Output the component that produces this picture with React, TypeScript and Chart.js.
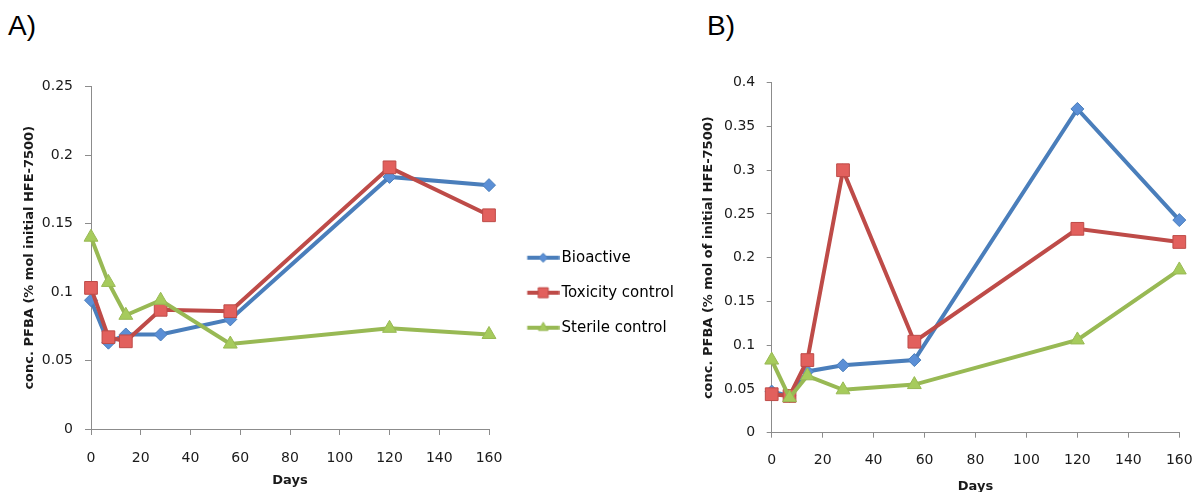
import React, { useEffect, useRef } from 'react';
import { Chart, registerables } from 'chart.js';

Chart.register(...registerables);

// ---------- data ----------
const days = [0, 7, 14, 28, 56, 120, 160];
const seriesLabels = ['Bioactive', 'Toxicity control', 'Sterile control'];

const bioactiveA = [0.094, 0.063, 0.069, 0.069, 0.080, 0.184, 0.178];
const toxicityA = [0.103, 0.067, 0.064, 0.087, 0.086, 0.191, 0.156];
const sterileA = [0.140, 0.107, 0.083, 0.094, 0.062, 0.0735, 0.069];

const bioactiveB = [0.047, 0.042, 0.070, 0.077, 0.083, 0.370, 0.243];
const toxicityB = [0.044, 0.042, 0.083, 0.300, 0.104, 0.233, 0.218];
const sterileB = [0.083, 0.040, 0.065, 0.049, 0.055, 0.106, 0.186];

const xTickValues = [0, 20, 40, 60, 80, 100, 120, 140, 160];
const yTickValuesA = [0, 0.05, 0.1, 0.15, 0.2, 0.25];
const yTickValuesB = [0, 0.05, 0.1, 0.15, 0.2, 0.25, 0.3, 0.35, 0.4];

const xTitle = 'Days';
const yTitleA = 'conc. PFBA (% mol initial HFE-7500)';
const yTitleB = 'conc. PFBA (% mol of initial HFE-7500)';
const panelLabels = ['A)', 'B)'];

// ---------- styles ----------
const lineColors = ['#4a7ebb', '#be4b48', '#98b954'];
const fillColors = ['#5b8fd6', '#e2605d', '#a6cb5c'];
const pointStyles = ['rectRot', 'rect', 'triangle'];
const pointRadii = [6.5, 9, 8];
const FONT = '"DejaVu Sans", Verdana, sans-serif';
const TEXT = '#1a1a1a';
const AXIS = '#8c8c8c';

const LEGEND_FONT_SIZE = 15;
const LEGEND_PAD = 20;
const LEGEND_BOX = 45;

function makeIcon(i: number): HTMLCanvasElement {
  const W = 56;
  const H = 16;
  const c = document.createElement('canvas');
  c.width = W;
  c.height = H;
  const ctx = c.getContext('2d')!;
  const cy = H / 2;
  const x0 = 23.75;
  const x1 = 55.75;
  ctx.strokeStyle = lineColors[i];
  ctx.lineWidth = 4;
  ctx.beginPath();
  ctx.moveTo(x0, cy);
  ctx.lineTo(x1, cy);
  ctx.stroke();
  const cx = (x0 + x1) / 2;
  ctx.fillStyle = fillColors[i];
  ctx.strokeStyle = lineColors[i];
  ctx.lineWidth = 1;
  ctx.beginPath();
  if (i === 0) {
    const r = 4.5;
    ctx.moveTo(cx - r, cy);
    ctx.lineTo(cx, cy - r);
    ctx.lineTo(cx + r, cy);
    ctx.lineTo(cx, cy + r);
    ctx.closePath();
  } else if (i === 1) {
    ctx.rect(cx - 5, cy - 5, 10, 10);
  } else {
    const r = 5.5;
    ctx.moveTo(cx, cy - r);
    ctx.lineTo(cx + r * 0.866, cy + r / 2);
    ctx.lineTo(cx - r * 0.866, cy + r / 2);
    ctx.closePath();
  }
  ctx.fill();
  ctx.stroke();
  return c;
}

function legendWidth(): number {
  const c = document.createElement('canvas');
  const ctx = c.getContext('2d')!;
  ctx.font = `${LEGEND_FONT_SIZE}px ${FONT}`;
  const maxText = Math.max(...seriesLabels.map((s) => ctx.measureText(s).width));
  return LEGEND_PAD + LEGEND_BOX + LEGEND_FONT_SIZE / 2 + maxText + 10;
}

function buildDatasets(values: number[][]) {
  return values.map((vals, i) => ({
    label: seriesLabels[i],
    data: days.map((d, k) => ({ x: d, y: vals[k] })),
    borderColor: lineColors[i],
    backgroundColor: fillColors[i],
    pointBackgroundColor: fillColors[i],
    pointBorderColor: lineColors[i],
    pointBorderWidth: 1,
    pointStyle: pointStyles[i],
    pointRadius: pointRadii[i],
    pointHoverRadius: pointRadii[i],
    borderWidth: 4,
    tension: 0,
    clip: false as any,
    order: 3 - i,
  }));
}

interface PanelOpts {
  yMax: number;
  yTicks: number[];
  yTitle: string;
  yWidth: number;
  yTitlePad: number;
  yTickPad: number;
  tickLen: number;
  xHeight: number;
  xTickPad: number;
  xTitlePadBottom: number;
  padding: { top: number; left: number; right: number; bottom: number };
  legend: boolean;
}

function buildConfig(values: number[][], o: PanelOpts): any {
  const icons = seriesLabels.map((_, i) => makeIcon(i));
  return {
    type: 'line',
    data: { datasets: buildDatasets(values) },
    options: {
      responsive: false,
      animation: false,
      devicePixelRatio: 1,
      layout: { padding: o.padding },
      events: [],
      plugins: {
        tooltip: { enabled: false },
        title: { display: false },
        legend: {
          display: o.legend,
          position: 'right',
          maxWidth: 400,
          labels: {
            usePointStyle: true,
            pointStyleWidth: LEGEND_BOX,
            padding: LEGEND_PAD,
            color: TEXT,
            font: { family: FONT, size: LEGEND_FONT_SIZE },
            generateLabels: (chart: any) =>
              chart.data.datasets.map((ds: any, i: number) => ({
                text: ds.label,
                pointStyle: icons[i],
                fillStyle: fillColors[i],
                strokeStyle: lineColors[i],
                lineWidth: 0,
                hidden: false,
                datasetIndex: i,
              })),
          },
        },
      },
      scales: {
        x: {
          type: 'linear',
          min: 0,
          max: 160,
          afterBuildTicks: (s: any) => {
            s.ticks = xTickValues.map((v) => ({ value: v }));
          },
          afterFit: (s: any) => {
            s.height = o.xHeight;
            s.paddingRight = 0;
            s.paddingLeft = 0;
          },
          ticks: {
            color: TEXT,
            font: { family: FONT, size: 14 },
            padding: o.xTickPad,
            maxRotation: 0,
            autoSkip: false,
            callback: (v: any) => String(v),
          },
          grid: {
            drawOnChartArea: false,
            drawTicks: true,
            tickLength: o.tickLen,
            color: AXIS,
          },
          border: { display: true, color: AXIS, width: 1 },
          title: {
            display: true,
            text: xTitle,
            color: TEXT,
            font: { family: FONT, size: 13, weight: 'bold' },
            padding: { top: 0, bottom: o.xTitlePadBottom },
          },
        },
        y: {
          type: 'linear',
          min: 0,
          max: o.yMax,
          afterBuildTicks: (s: any) => {
            s.ticks = o.yTicks.map((v) => ({ value: v }));
          },
          afterFit: (s: any) => {
            s.width = o.yWidth;
          },
          ticks: {
            color: TEXT,
            font: { family: FONT, size: 14 },
            padding: o.yTickPad,
            autoSkip: false,
            callback: (v: any) => String(v),
          },
          grid: {
            drawOnChartArea: false,
            drawTicks: true,
            tickLength: o.tickLen,
            color: AXIS,
          },
          border: { display: true, color: AXIS, width: 1 },
          title: {
            display: true,
            text: o.yTitle,
            color: TEXT,
            font: { family: FONT, size: 13, weight: 'bold' },
            padding: { top: o.yTitlePad, bottom: 0 },
          },
        },
      },
    },
  };
}

const A_LEFT = 0;
const A_WIDTH = 695;
const A_PLOT_RIGHT = 489;
const B_LEFT = 695;
const B_WIDTH = 502;
const HEIGHT = 492;

export default function App() {
  const refA = useRef<HTMLCanvasElement>(null);
  const refB = useRef<HTMLCanvasElement>(null);

  useEffect(() => {
    const padRightA = Math.max(0, A_WIDTH - A_PLOT_RIGHT - legendWidth());
    const chartA = new Chart(
      refA.current!,
      buildConfig([bioactiveA, toxicityA, sterileA], {
        yMax: 0.25,
        yTicks: yTickValuesA,
        yTitle: yTitleA,
        yWidth: 91,
        yTitlePad: 21.5,
        yTickPad: 12,
        tickLen: 6,
        xHeight: 70,
        xTickPad: 15,
        xTitlePadBottom: 10.2,
        padding: { top: 86.5, left: 0, right: padRightA, bottom: -7 },
        legend: true,
      })
    );
    const chartB = new Chart(
      refB.current!,
      buildConfig([bioactiveB, toxicityB, sterileB], {
        yMax: 0.4,
        yTicks: yTickValuesB,
        yTitle: yTitleB,
        yWidth: 76.7,
        yTitlePad: 5.5,
        yTickPad: 11.5,
        tickLen: 5,
        xHeight: 59.3,
        xTickPad: 14,
        xTitlePadBottom: -2,
        padding: { top: 82.7, left: 0, right: 17.7, bottom: 0 },
        legend: false,
      })
    );
    return () => {
      chartA.destroy();
      chartB.destroy();
    };
  }, []);

  const labelStyle: React.CSSProperties = {
    position: 'absolute',
    top: 12,
    fontFamily: '"Liberation Sans", Arial, sans-serif',
    fontSize: 28,
    lineHeight: '1',
    color: '#000',
    margin: 0,
  };

  return (
    <div>
      <div style={{ ...labelStyle, left: 8 }}>{panelLabels[0]}</div>
      <div style={{ ...labelStyle, left: 707 }}>{panelLabels[1]}</div>
      <canvas
        ref={refA}
        width={A_WIDTH}
        height={HEIGHT}
        style={{ position: 'absolute', left: A_LEFT, top: 0, width: A_WIDTH, height: HEIGHT }}
      />
      <canvas
        ref={refB}
        width={B_WIDTH}
        height={HEIGHT}
        style={{ position: 'absolute', left: B_LEFT, top: 0, width: B_WIDTH, height: HEIGHT }}
      />
    </div>
  );
}
